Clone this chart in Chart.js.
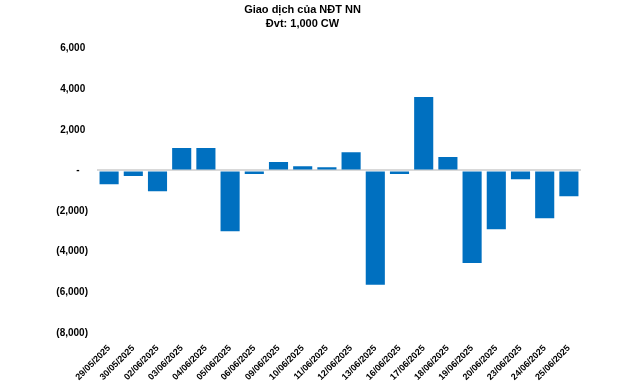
<!DOCTYPE html>
<html>
<head>
<meta charset="utf-8">
<script src="https://cdn.jsdelivr.net/npm/chart.js@4.4.1/dist/chart.umd.min.js"></script>
<style>
  html, body { margin: 0; padding: 0; background: #fff; }
  #wrap { width: 640px; height: 384px; }
</style>
</head>
<body>
<div id="wrap"><canvas id="netChart" width="640" height="384"></canvas></div>
<script>
var dates = ["29/05/2025", "30/05/2025", "02/06/2025", "03/06/2025", "04/06/2025", "05/06/2025",
             "06/06/2025", "09/06/2025", "10/06/2025", "11/06/2025", "12/06/2025", "13/06/2025",
             "16/06/2025", "17/06/2025", "18/06/2025", "19/06/2025", "20/06/2025", "23/06/2025",
             "24/06/2025", "25/06/2025"];
var netValues = [-680, -280, -1020, 1100, 1100, -2990,
                 -180, 410, 210, 160, 900, -5630,
                 -180, 3610, 655, -4560, -2890, -430,
                 -2350, -1270];
var titleLines = ["Giao dịch của NĐT NN", "Đvt: 1,000 CW"];
var yMin = -8000, yMax = 6000, yStep = 2000;

Chart.defaults.font.family = "'Liberation Sans', Arial, sans-serif";
Chart.defaults.color = "#000";

function fmt(v) {
    var s = Math.abs(v).toLocaleString("en-US");
    if (v === 0) return "-   ";
    if (v < 0) return "(" + s + ")";
    return s + " ";
}

new Chart(document.getElementById("netChart"), {
    type: 'bar',
    data: {
        labels: dates,
        datasets: [
          {
              backgroundColor: "#0070C0",
              data: netValues,
              barPercentage: 0.79,
              categoryPercentage: 1
          }
        ]
    },
    options: {
        responsive: false,
        animation: false,
        layout: { padding: { left: 0, right: 35, top: 0, bottom: 0 } },
        plugins: {
            legend: { display: false },
            tooltip: { enabled: false },
            title: {
                display: true,
                text: titleLines,
                color: "#000",
                font: { size: 11, weight: 'bold', lineHeight: 1.25 },
                padding: { top: 3, bottom: 18 }
            }
        },
        scales: {
            x: {
                grid: { display: false },
                border: { display: false },
                ticks: {
                    autoSkip: false,
                    maxRotation: 45,
                    minRotation: 45,
                    padding: 2,
                    font: { size: 9, weight: 'bold' }
                },
                afterFit: function (scale) { scale.height = 51; }
            },
            y: {
                min: yMin,
                max: yMax,
                border: { display: false },
                grid: {
                    drawTicks: false,
                    lineWidth: 2,
                    color: function (ctx) {
                        return ctx.tick && ctx.tick.value === 0 ? "#d9d9d9" : "rgba(0,0,0,0)";
                    }
                },
                ticks: {
                    stepSize: yStep,
                    padding: 9,
                    font: { size: 10, weight: 'bold' },
                    callback: function (v) { return fmt(v); }
                },
                afterFit: function (scale) { scale.width = 97; }
            },
            yRight: {
                position: 'right',
                display: true,
                grid: { display: false },
                border: { display: false },
                ticks: { display: false },
                afterFit: function (scale) { scale.width = 24; }
            }
        }
    }
});
</script>
</body>
</html>
